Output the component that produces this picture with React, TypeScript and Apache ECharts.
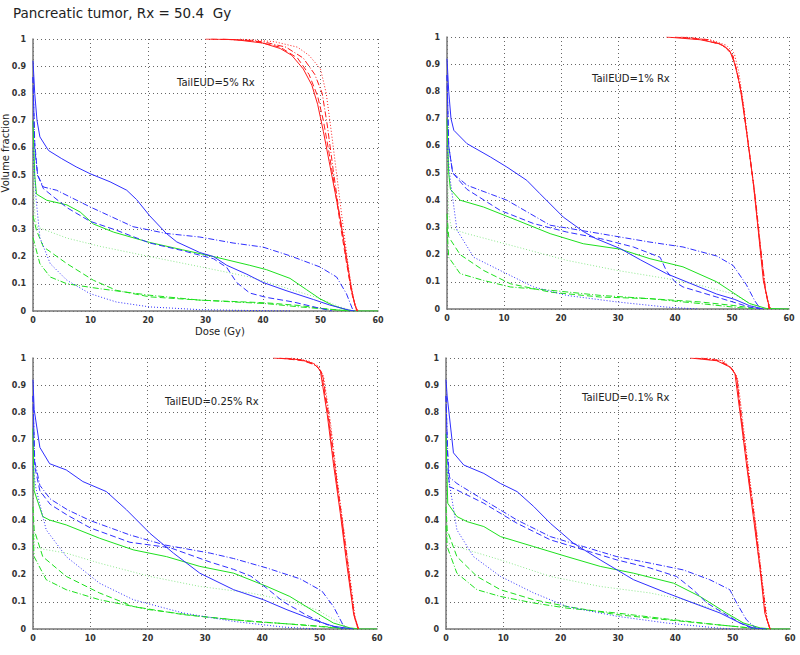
import React, { useEffect, useRef } from "react";
import * as echarts from "echarts";

type Pt = [number, number];

const TITLE = "Pancreatic tumor, Rx = 50.4  Gy";
const Y_NAME = "Volume fraction";
const X_NAME = "Dose (Gy)";
const PANEL_LABELS = ["TailEUD=5% Rx", "TailEUD=1% Rx", "TailEUD=0.25% Rx", "TailEUD=0.1% Rx"];
const X_TICKS = [0, 10, 20, 30, 40, 50, 60];
const Y_TICKS = [0, 0.1, 0.2, 0.3, 0.4, 0.5, 0.6, 0.7, 0.8, 0.9, 1];

// ---------- Panel 1: TailEUD = 5% Rx ----------
const P1_RED_SOLID: Pt[] = [[30, 1], [35, 0.998], [40, 0.985], [43, 0.965], [45, 0.94], [47, 0.89], [48.5, 0.83], [49.5, 0.76], [50.5, 0.66], [51.5, 0.55], [52.5, 0.44], [53.5, 0.33], [54.5, 0.2], [55.3, 0.09], [56, 0.02], [56.5, 0]];
const P1_RED_DASHED: Pt[] = [[31, 1], [38, 0.995], [43, 0.97], [46, 0.93], [48, 0.87], [49.5, 0.79], [50.5, 0.7], [51.5, 0.58], [52.5, 0.45], [53.5, 0.31], [54.5, 0.18], [55.5, 0.06], [56.3, 0]];
const P1_RED_DASHDOT: Pt[] = [[33, 1], [40, 0.99], [44, 0.97], [47, 0.93], [49, 0.87], [50.3, 0.8], [51.2, 0.68], [52.2, 0.52], [53.2, 0.37], [54.3, 0.22], [55.3, 0.08], [56.3, 0]];
const P1_RED_DOTTED: Pt[] = [[36, 1], [42, 0.99], [46, 0.97], [48, 0.94], [50, 0.89], [51, 0.8], [52, 0.64], [53, 0.47], [54, 0.3], [55, 0.14], [55.8, 0.04], [56.4, 0]];
const P1_BLUE_SOLID: Pt[] = [[0, 0.92], [0.3, 0.8], [0.7, 0.7], [1.2, 0.64], [2.7, 0.59], [5, 0.56], [7.5, 0.53], [9.9, 0.505], [13.4, 0.475], [16.3, 0.444], [18, 0.41], [20.3, 0.35], [23.2, 0.285], [25, 0.254], [29, 0.215], [31.4, 0.2], [33.7, 0.168], [37.2, 0.135], [40, 0.105], [44, 0.075], [48.8, 0.042], [51.6, 0.022], [55, 0.003], [56, 0]];
const P1_BLUE_DASHED: Pt[] = [[0, 0.86], [0.3, 0.62], [0.8, 0.5], [1.8, 0.45], [5.9, 0.38], [9.9, 0.33], [14.5, 0.297], [20.3, 0.25], [26, 0.222], [31.4, 0.192], [33.7, 0.16], [35.4, 0.105], [37.7, 0.066], [40.6, 0.05], [45.3, 0.033], [49.9, 0.01], [52, 0]];
const P1_BLUE_DASHDOT: Pt[] = [[0, 0.86], [0.3, 0.6], [0.8, 0.5], [1.8, 0.456], [4.1, 0.444], [9.9, 0.383], [17.4, 0.31], [23.2, 0.285], [29, 0.272], [34.8, 0.25], [40, 0.235], [44.7, 0.203], [49.9, 0.162], [52.8, 0.125], [54.5, 0.064], [55.7, 0]];
const P1_BLUE_DOTTED: Pt[] = [[0, 0.6], [0.5, 0.42], [1.2, 0.27], [3, 0.174], [5.9, 0.113], [9.9, 0.064], [14.5, 0.033], [20.3, 0.015], [29, 0.005], [40, 0.001], [45, 0]];
const P1_GREEN_SOLID: Pt[] = [[0, 0.7], [0.3, 0.5], [0.6, 0.43], [2.4, 0.407], [5.9, 0.39], [8.2, 0.364], [10.5, 0.32], [14, 0.29], [20.3, 0.252], [26, 0.225], [31.4, 0.2], [37.7, 0.168], [40.6, 0.152], [44.7, 0.12], [47.6, 0.078], [49.9, 0.045], [52.2, 0.02], [54.5, 0.004], [56, 0], [60, 0]];
const P1_GREEN_DOTTED: Pt[] = [[0, 0.55], [0.3, 0.36], [0.6, 0.31], [5.9, 0.268], [11.6, 0.238], [20.3, 0.2], [29, 0.163], [37.7, 0.125], [43.5, 0.088], [49.3, 0.05], [53.4, 0.015], [55.7, 0]];
const P1_GREEN_DASHED: Pt[] = [[0, 0.35], [0.6, 0.297], [1.8, 0.236], [5.9, 0.174], [10.5, 0.113], [14.5, 0.076], [20.3, 0.052], [29, 0.04], [40.6, 0.03], [46.4, 0.02], [49.9, 0.01], [55, 0]];
const P1_GREEN_DASHDOT: Pt[] = [[0, 0.27], [1.2, 0.174], [3, 0.125], [5.9, 0.1], [11.6, 0.082], [20.3, 0.058], [29, 0.04], [40.6, 0.027], [46.4, 0.015], [52.2, 0.005], [55, 0]];

// ---------- Panel 2: TailEUD = 1% Rx ----------
const P2_RED_SOLID: Pt[] = [[38.5, 1], [44.4, 0.99], [47.9, 0.975], [49.6, 0.95], [50.5, 0.9], [51.4, 0.82], [52.5, 0.66], [53.7, 0.47], [54.6, 0.29], [55.5, 0.105], [56.6, 0]];
const P2_RED_DASHED: Pt[] = [[40, 1], [45, 0.99], [48.3, 0.97], [49.9, 0.94], [50.8, 0.88], [51.7, 0.79], [52.7, 0.63], [53.9, 0.44], [54.8, 0.26], [55.7, 0.09], [56.5, 0]];
const P2_RED_DASHDOT: Pt[] = [[41, 1], [46, 0.99], [48.8, 0.965], [50.2, 0.93], [51, 0.86], [51.9, 0.76], [52.9, 0.6], [54.1, 0.41], [55, 0.23], [55.9, 0.07], [56.6, 0]];
const P2_RED_DOTTED: Pt[] = [[42, 1], [46.5, 0.988], [49, 0.97], [50.4, 0.94], [51.2, 0.87], [52.1, 0.74], [53.1, 0.57], [54.2, 0.38], [55.1, 0.2], [56, 0.05], [56.8, 0]];
const P2_BLUE_SOLID: Pt[] = [[0, 0.92], [0.3, 0.8], [0.7, 0.7], [1.2, 0.657], [3.5, 0.608], [7.6, 0.559], [10.5, 0.522], [14, 0.473], [16.3, 0.424], [20.4, 0.338], [23.9, 0.285], [26, 0.26], [30.4, 0.222], [34, 0.18], [38.5, 0.13], [42.6, 0.095], [47.3, 0.055], [50.5, 0.035], [53.1, 0.012], [55.5, 0]];
const P2_BLUE_DASHED: Pt[] = [[0, 0.86], [0.3, 0.6], [1, 0.5], [3.5, 0.44], [9.3, 0.363], [15.2, 0.314], [21, 0.283], [26.9, 0.259], [32.7, 0.228], [37.4, 0.19], [38.5, 0.14], [40, 0.1], [41.4, 0.081], [47.3, 0.044], [53.1, 0.007], [55, 0]];
const P2_BLUE_DASHDOT: Pt[] = [[0, 0.86], [0.3, 0.6], [1, 0.5], [3.5, 0.455], [10.5, 0.4], [18.1, 0.308], [26.9, 0.277], [35.6, 0.246], [41.4, 0.228], [47.3, 0.195], [50.2, 0.16], [52.5, 0.09], [54, 0.03], [55, 0]];
const P2_BLUE_DOTTED: Pt[] = [[0, 0.6], [0.6, 0.47], [1.75, 0.29], [4.7, 0.19], [9.3, 0.142], [15.2, 0.081], [21, 0.05], [29.8, 0.026], [38.5, 0.007], [44, 0]];
const P2_GREEN_SOLID: Pt[] = [[0, 0.7], [0.3, 0.5], [0.6, 0.44], [2.3, 0.4], [6.4, 0.375], [12.3, 0.326], [18.1, 0.277], [23.9, 0.24], [30.4, 0.22], [35.6, 0.185], [41.4, 0.155], [47.3, 0.1], [50.2, 0.06], [53.1, 0.02], [56, 0.002], [60, 0]];
const P2_GREEN_DOTTED: Pt[] = [[0, 0.55], [0.3, 0.35], [0.8, 0.295], [3.5, 0.277], [12.3, 0.228], [21, 0.179], [29.8, 0.142], [38.5, 0.112], [44.4, 0.087], [50.2, 0.056], [53.1, 0.02], [54.9, 0]];
const P2_GREEN_DASHED: Pt[] = [[0, 0.35], [0.3, 0.265], [2.3, 0.2], [6.4, 0.142], [11.1, 0.093], [18.1, 0.062], [26.9, 0.044], [35.6, 0.038], [44.4, 0.026], [50.2, 0.013], [54.9, 0]];
const P2_GREEN_DASHDOT: Pt[] = [[0, 0.3], [0.3, 0.19], [2.3, 0.13], [6.4, 0.105], [11.1, 0.081], [18.1, 0.069], [26.9, 0.05], [35.6, 0.038], [44.4, 0.02], [50.2, 0.007], [53.7, 0]];

// ---------- Panel 3: TailEUD = 0.25% Rx ----------
const P3_RED_SOLID: Pt[] = [[41.9, 1], [46.6, 0.994], [48.9, 0.98], [50.1, 0.955], [51.3, 0.795], [52.4, 0.61], [53.6, 0.427], [54.7, 0.243], [55.9, 0.059], [56.8, 0]];
const P3_RED_DASHED: Pt[] = [[43, 1], [47, 0.99], [49.2, 0.975], [50.3, 0.95], [51.5, 0.78], [52.6, 0.6], [53.8, 0.41], [54.9, 0.23], [56, 0.05], [56.7, 0]];
const P3_RED_DASHDOT: Pt[] = [[44, 1], [47.5, 0.99], [49.5, 0.97], [50.5, 0.94], [51.7, 0.77], [52.8, 0.58], [54, 0.39], [55.1, 0.21], [56.1, 0.04], [56.7, 0]];
const P3_RED_DOTTED: Pt[] = [[45, 1], [48, 0.99], [49.8, 0.97], [50.7, 0.93], [51.9, 0.76], [53, 0.56], [54.2, 0.37], [55.3, 0.19], [56.2, 0.04], [56.8, 0]];
const P3_BLUE_SOLID: Pt[] = [[0, 0.92], [0.2, 0.81], [1.2, 0.67], [2.9, 0.61], [5.8, 0.587], [8.7, 0.544], [12.8, 0.507], [16.3, 0.44], [20.4, 0.353], [24.5, 0.28], [29.1, 0.206], [35, 0.145], [40.2, 0.108], [44.3, 0.071], [48.9, 0.034], [52.4, 0.01], [55.9, 0]];
const P3_BLUE_DASHED: Pt[] = [[0, 0.86], [0.3, 0.6], [1.2, 0.51], [3, 0.46], [6, 0.42], [10, 0.373], [16.9, 0.32], [23.9, 0.3], [30.9, 0.247], [35, 0.22], [38, 0.195], [40.8, 0.15], [43.7, 0.1], [47.8, 0.05], [51.3, 0.016], [54.2, 0]];
const P3_BLUE_DASHDOT: Pt[] = [[0, 0.86], [0.3, 0.62], [1.2, 0.53], [3, 0.48], [6, 0.44], [10, 0.4], [16.9, 0.347], [23, 0.31], [30.9, 0.28], [35, 0.26], [40.8, 0.225], [46.6, 0.185], [50.4, 0.14], [52.4, 0.083], [54.2, 0.01], [54.7, 0]];
const P3_BLUE_DOTTED: Pt[] = [[0, 0.6], [0.5, 0.52], [2.3, 0.366], [5.8, 0.267], [11.6, 0.169], [17.5, 0.108], [26.2, 0.059], [35, 0.028], [43.7, 0.007], [49.5, 0]];
const P3_GREEN_SOLID: Pt[] = [[0, 0.74], [0.2, 0.51], [1.7, 0.415], [2.9, 0.402], [5.8, 0.384], [11.6, 0.335], [17.5, 0.292], [23.3, 0.267], [29.1, 0.231], [35, 0.206], [40.8, 0.157], [44.8, 0.12], [49.5, 0.059], [52.4, 0.022], [55.3, 0.004], [57, 0], [60, 0]];
const P3_GREEN_DOTTED: Pt[] = [[0, 0.5], [0.3, 0.3], [5.8, 0.28], [11.6, 0.243], [20.4, 0.194], [29.1, 0.157], [37.9, 0.133], [43.7, 0.108], [49.5, 0.071], [53.6, 0.022], [55.3, 0]];
const P3_GREEN_DASHED: Pt[] = [[0, 0.45], [0.2, 0.366], [1.7, 0.267], [5.8, 0.194], [11.6, 0.133], [17.5, 0.083], [26.2, 0.053], [35, 0.034], [43.7, 0.02], [49.5, 0.01], [54.7, 0]];
const P3_GREEN_DASHDOT: Pt[] = [[0, 0.35], [0.2, 0.267], [2.3, 0.182], [5.8, 0.145], [11.6, 0.108], [20.4, 0.071], [29.1, 0.047], [37.9, 0.028], [46.6, 0.016], [52.4, 0.006], [55.9, 0]];

// ---------- Panel 4: TailEUD = 0.1% Rx ----------
const P4_RED_SOLID: Pt[] = [[42.6, 1], [47.2, 0.99], [49.5, 0.967], [50.4, 0.942], [51.3, 0.795], [52.4, 0.61], [53.6, 0.415], [54.8, 0.218], [55.6, 0.059], [56.5, 0]];
const P4_RED_DASHED: Pt[] = [[43.5, 1], [47.5, 0.99], [49.7, 0.965], [50.6, 0.935], [51.5, 0.78], [52.6, 0.59], [53.8, 0.4], [54.9, 0.2], [55.8, 0.05], [56.5, 0]];
const P4_RED_DASHDOT: Pt[] = [[44.5, 1], [48, 0.99], [49.9, 0.96], [50.7, 0.93], [51.6, 0.77], [52.8, 0.57], [54, 0.38], [55.1, 0.18], [55.9, 0.04], [56.5, 0]];
const P4_RED_DOTTED: Pt[] = [[45.5, 1], [48.4, 0.99], [50.1, 0.955], [50.9, 0.92], [51.8, 0.76], [53, 0.55], [54.2, 0.36], [55.2, 0.17], [56, 0.04], [56.6, 0]];
const P4_BLUE_SOLID: Pt[] = [[0, 0.92], [0.2, 0.86], [1.3, 0.65], [3.1, 0.605], [6.6, 0.574], [9.5, 0.537], [12.4, 0.507], [15.3, 0.452], [18.2, 0.39], [22.2, 0.317], [26.9, 0.255], [32.7, 0.182], [38.5, 0.133], [43.1, 0.096], [47.8, 0.059], [51.3, 0.022], [53.6, 0.004], [55.9, 0]];
const P4_BLUE_DASHED: Pt[] = [[0, 0.86], [0.3, 0.62], [0.6, 0.525], [1.9, 0.513], [6.6, 0.464], [12.4, 0.39], [18.2, 0.329], [24, 0.292], [29.8, 0.255], [35.6, 0.225], [40.2, 0.194], [43.1, 0.145], [45.5, 0.096], [48.4, 0.059], [51.3, 0.022], [53.6, 0]];
const P4_BLUE_DASHDOT: Pt[] = [[0, 0.86], [0.3, 0.65], [0.6, 0.56], [1.9, 0.537], [6.6, 0.476], [12.4, 0.402], [18.2, 0.341], [24, 0.304], [29.8, 0.267], [35.6, 0.243], [41.4, 0.218], [46, 0.182], [49.5, 0.145], [50.7, 0.096], [52.4, 0.034], [54.2, 0]];
const P4_BLUE_DOTTED: Pt[] = [[0, 0.6], [0.5, 0.55], [1.9, 0.366], [4.8, 0.267], [9.5, 0.194], [15.3, 0.133], [21.1, 0.083], [29.8, 0.047], [38.5, 0.022], [47.2, 0.004], [50, 0]];
const P4_GREEN_SOLID: Pt[] = [[0, 0.72], [0.3, 0.464], [1.9, 0.415], [3.7, 0.396], [6.6, 0.378], [9.5, 0.341], [15.3, 0.304], [21.1, 0.267], [26.9, 0.231], [32.7, 0.206], [39.7, 0.169], [44.3, 0.12], [48.9, 0.059], [51.9, 0.022], [54.8, 0.004], [57, 0], [60, 0]];
const P4_GREEN_DOTTED: Pt[] = [[0, 0.5], [0.3, 0.317], [3.7, 0.292], [9.5, 0.255], [18.2, 0.194], [26.9, 0.157], [35.6, 0.133], [41.4, 0.108], [47.2, 0.071], [51.9, 0.022], [53.6, 0]];
const P4_GREEN_DASHED: Pt[] = [[0, 0.45], [0.2, 0.366], [1.9, 0.267], [5.4, 0.194], [9.5, 0.145], [15.3, 0.108], [21.1, 0.083], [29.8, 0.053], [38.5, 0.034], [47.2, 0.016], [53, 0.004], [55.9, 0]];
const P4_GREEN_DASHDOT: Pt[] = [[0, 0.38], [0.2, 0.304], [1.9, 0.206], [5.4, 0.145], [9.5, 0.12], [15.3, 0.096], [21.1, 0.077], [29.8, 0.059], [38.5, 0.037], [47.2, 0.016], [53, 0.004], [55.9, 0]];

const PANEL_DATA: Pt[][][] = [
  [P1_GREEN_DOTTED, P1_GREEN_DASHDOT, P1_GREEN_DASHED, P1_GREEN_SOLID, P1_BLUE_DOTTED, P1_BLUE_DASHDOT, P1_BLUE_DASHED, P1_BLUE_SOLID, P1_RED_DOTTED, P1_RED_DASHDOT, P1_RED_DASHED, P1_RED_SOLID],
  [P2_GREEN_DOTTED, P2_GREEN_DASHDOT, P2_GREEN_DASHED, P2_GREEN_SOLID, P2_BLUE_DOTTED, P2_BLUE_DASHDOT, P2_BLUE_DASHED, P2_BLUE_SOLID, P2_RED_DOTTED, P2_RED_DASHDOT, P2_RED_DASHED, P2_RED_SOLID],
  [P3_GREEN_DOTTED, P3_GREEN_DASHDOT, P3_GREEN_DASHED, P3_GREEN_SOLID, P3_BLUE_DOTTED, P3_BLUE_DASHDOT, P3_BLUE_DASHED, P3_BLUE_SOLID, P3_RED_DOTTED, P3_RED_DASHDOT, P3_RED_DASHED, P3_RED_SOLID],
  [P4_GREEN_DOTTED, P4_GREEN_DASHDOT, P4_GREEN_DASHED, P4_GREEN_SOLID, P4_BLUE_DOTTED, P4_BLUE_DASHDOT, P4_BLUE_DASHED, P4_BLUE_SOLID, P4_RED_DOTTED, P4_RED_DASHDOT, P4_RED_DASHED, P4_RED_SOLID],
];

const GREEN = "#1ee01e";
const LIGHT_GREEN = "#8de88d";
const BLUE = "#2f2fff";
const RED = "#ff1a1a";
const DOT: number[] = [1, 2];
const DASH: number[] = [6, 3];
const DASHDOT: number[] = [6, 2, 1, 2];

const CURVE_STYLES: { color: string; type: any; width: number }[] = [
  { color: LIGHT_GREEN, type: DOT, width: 1 },
  { color: GREEN, type: DASHDOT, width: 1 },
  { color: GREEN, type: DASH, width: 1 },
  { color: GREEN, type: "solid", width: 1 },
  { color: BLUE, type: DOT, width: 1 },
  { color: BLUE, type: DASHDOT, width: 1 },
  { color: BLUE, type: DASH, width: 1 },
  { color: BLUE, type: "solid", width: 1 },
  { color: RED, type: DOT, width: 1 },
  { color: RED, type: DASHDOT, width: 1 },
  { color: RED, type: DASH, width: 1 },
  { color: RED, type: "solid", width: 1 },
];

const GRIDS = [
  { left: 33, top: 39, width: 345, height: 272 },
  { left: 447, top: 37, width: 342, height: 272 },
  { left: 33, top: 358, width: 344, height: 271 },
  { left: 446, top: 358, width: 344, height: 271 },
];

const LABEL_POS = [
  { x: 177, y: 82 },
  { x: 592, y: 78 },
  { x: 165, y: 401 },
  { x: 582, y: 397 },
];

const FONT = "DejaVu Sans";

export default function App() {
  const ref = useRef<HTMLDivElement>(null);
  useEffect(() => {
    if (!ref.current) return;
    const chart = echarts.init(ref.current, undefined, { renderer: "svg" });
    const xAxes: any[] = [];
    const yAxes: any[] = [];
    const series: any[] = [];
    const gridLine = { show: true, lineStyle: { color: "#666", width: 1, type: [1, 3] } };
    GRIDS.forEach((g, i) => {
      xAxes.push({
        type: "value",
        gridIndex: i,
        min: X_TICKS[0],
        max: X_TICKS[X_TICKS.length - 1],
        interval: X_TICKS[1] - X_TICKS[0],
        axisLine: { show: true, onZero: false, lineStyle: { color: "#777", width: 1.5 } },
        axisTick: { show: false },
        splitLine: gridLine,
        axisLabel: { fontSize: 8, fontWeight: "bold", color: "#333", margin: 5, fontFamily: FONT },
      });
      yAxes.push({
        type: "value",
        gridIndex: i,
        min: Y_TICKS[0],
        max: Y_TICKS[Y_TICKS.length - 1],
        interval: 0.1,
        axisLine: { show: true, onZero: false, lineStyle: { color: "#777", width: 1.5 } },
        axisTick: { show: false },
        splitLine: gridLine,
        axisLabel: {
          fontSize: 8,
          fontWeight: "bold",
          color: "#333",
          margin: 7,
          fontFamily: FONT,
          formatter: (v: number) => String(Math.round(v * 10) / 10),
        },
      });
      PANEL_DATA[i].forEach((data, k) => {
        const st = CURVE_STYLES[k];
        series.push({
          type: "line",
          xAxisIndex: i,
          yAxisIndex: i,
          data,
          showSymbol: false,
          symbol: "none",
          silent: true,
          lineStyle: { color: st.color, width: st.width, type: st.type },
        });
      });
    });

    const graphics: any[] = [
      {
        type: "text",
        left: 13,
        top: 6,
        style: { text: TITLE, fontSize: 13.5, fontFamily: FONT, fill: "#222" },
      },
      {
        type: "text",
        x: 5,
        y: 153,
        rotation: Math.PI / 2,
        style: { text: Y_NAME, fontSize: 10, fontFamily: FONT, fill: "#222", align: "center", verticalAlign: "middle" },
      },
      {
        type: "text",
        x: 220,
        y: 331,
        style: { text: X_NAME, fontSize: 10, fontFamily: FONT, fill: "#222", align: "center", verticalAlign: "middle" },
      },
    ];
    PANEL_LABELS.forEach((t, i) => {
      graphics.push({
        type: "text",
        x: LABEL_POS[i].x,
        y: LABEL_POS[i].y,
        style: { text: t, fontSize: 10, fontFamily: FONT, fill: "#222", verticalAlign: "middle" },
      });
    });

    chart.setOption({
      animation: false,
      backgroundColor: "#ffffff",
      grid: GRIDS.map((g) => ({ ...g, containLabel: false })),
      xAxis: xAxes,
      yAxis: yAxes,
      series,
      graphic: graphics,
    });
    return () => chart.dispose();
  }, []);
  return (
    <div
      ref={ref}
      style={{ position: "absolute", left: 0, top: 0, width: 800, height: 655, background: "#fff" }}
    />
  );
}
